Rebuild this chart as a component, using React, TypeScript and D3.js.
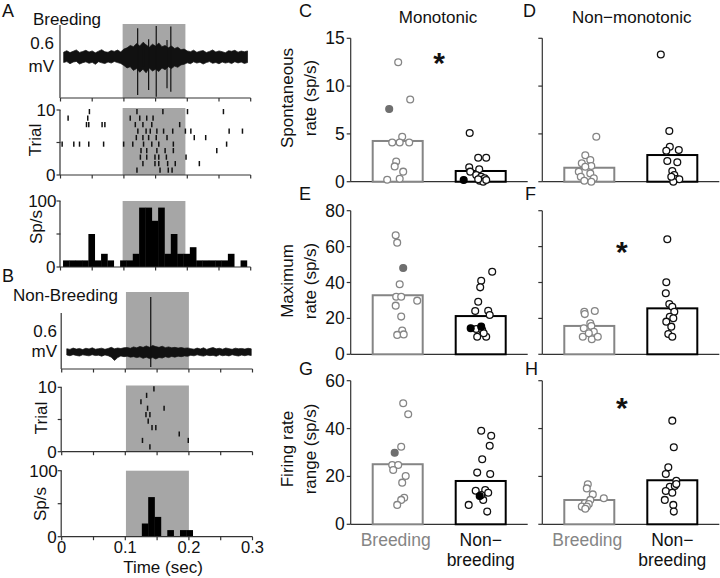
import React from "react";
import * as d3 from "d3";

const FONT = "'Liberation Sans', Arial, Helvetica, sans-serif";

// ---------------- Panels A & B (time course) ----------------
const timeTicks = [0, 0.05, 0.1, 0.15, 0.2, 0.25, 0.3];
const timeLabels = [0, 0.1, 0.2, 0.3];
const stimA = [0.098, 0.197];
const stimB = [0.101, 0.2];

const traceStartA = 0.005;
const traceStartB = 0.008;
const traceStep = 0.005;
const noiseHiA = [
  0.040, 0.052, 0.036, 0.047, 0.058, 0.038, 0.045, 0.055, 0.041, 0.050, 0.034, 0.048, 0.060, 0.043, 0.039, 0.053, 0.046, 0.057, 0.042,
  0.065, 0.075, 0.095, 0.085, 0.11, 0.09, 0.12, 0.1, 0.08, 0.105, 0.09, 0.115, 0.085, 0.095, 0.075, 0.09, 0.07, 0.08, 0.06, 0.065,
  0.05, 0.044, 0.056, 0.039, 0.048, 0.053, 0.037, 0.046, 0.058, 0.041, 0.05, 0.044, 0.035, 0.052, 0.047, 0.055, 0.04, 0.049, 0.043, 0.05,
];
const noiseLoA = [
  -0.045, -0.038, -0.055, -0.042, -0.036, -0.058, -0.047, -0.04, -0.052, -0.044, -0.06, -0.039, -0.048, -0.054, -0.041, -0.05, -0.037, -0.046, -0.053,
  -0.07, -0.09, -0.08, -0.11, -0.095, -0.125, -0.1, -0.13, -0.09, -0.115, -0.1, -0.12, -0.09, -0.105, -0.08, -0.095, -0.075, -0.085, -0.065, -0.06,
  -0.048, -0.055, -0.04, -0.05, -0.043, -0.058, -0.046, -0.038, -0.052, -0.045, -0.056, -0.041, -0.05, -0.044, -0.054, -0.039, -0.049, -0.042, -0.053, -0.046,
];
const spikeTimesA = [0.1217, 0.131, 0.139, 0.151, 0.168, 0.174];
const spikeHiA = [0.236, 0.12, 0.145, 0.255, 0.14, 0.25];
const spikeLoA = [-0.312, -0.08, -0.271, -0.326, -0.257, -0.285];

const noiseHiB = [
  0.035, 0.028, 0.042, 0.031, 0.038, 0.026, 0.04, 0.033, 0.045, 0.03, 0.036, 0.041, 0.029, 0.038, 0.05, 0.034, 0.043, 0.037, 0.046,
  0.048, 0.04, 0.055, 0.045, 0.06, 0.05, 0.065, 0.052, 0.07, 0.058, 0.05, 0.062, 0.047, 0.055, 0.045, 0.05, 0.042, 0.048, 0.04, 0.044,
  0.036, 0.03, 0.042, 0.033, 0.045, 0.028, 0.039, 0.048, 0.034, 0.04, 0.03, 0.043, 0.036, 0.029, 0.041, 0.035, 0.038, 0.031, 0.04, 0.034,
];
const noiseLoB = [
  -0.032, -0.04, -0.028, -0.037, -0.043, -0.03, -0.036, -0.041, -0.029, -0.038, -0.034, -0.045, -0.031, -0.04, -0.055, -0.09, -0.06, -0.042, -0.05,
  -0.045, -0.055, -0.05, -0.06, -0.052, -0.068, -0.055, -0.07, -0.06, -0.075, -0.058, -0.065, -0.05, -0.06, -0.048, -0.055, -0.045, -0.05, -0.042, -0.046,
  -0.035, -0.041, -0.03, -0.038, -0.044, -0.032, -0.039, -0.036, -0.045, -0.03, -0.04, -0.034, -0.042, -0.029, -0.037, -0.043, -0.033, -0.04, -0.031, -0.038,
];
const spikeTimesB = [0.14];
const spikeHiB = [0.59];
const spikeLoB = [-0.16];

// spike times per trial (trial 1 .. 10)
const rasterA = [
  [0.1206, 0.157, 0.17, 0.176],
  [0.13, 0.149, 0.155, 0.169, 0.181, 0.219],
  [0.126, 0.136, 0.149, 0.155, 0.167, 0.198],
  [0.127, 0.136, 0.152, 0.165, 0.178, 0.2465],
  [0.0026, 0.021, 0.03, 0.0446, 0.068, 0.0996, 0.114, 0.131, 0.144, 0.155, 0.178, 0.262],
  [0.1196, 0.13, 0.139, 0.151, 0.168, 0.211, 0.229],
  [0.122, 0.135, 0.1416, 0.152, 0.1626, 0.177, 0.197, 0.2056, 0.266, 0.287],
  [0.041, 0.0446, 0.0656, 0.07, 0.118, 0.13, 0.144, 0.188],
  [0.012, 0.043, 0.11, 0.125, 0.136, 0.146],
  [0.0456, 0.1206, 0.1615, 0.2003, 0.257],
];
const rasterB = [
  [0.1387],
  [0.127, 0.199],
  [0.1848],
  [0.142, 0.148],
  [0.136],
  [0.1325, 0.1387],
  [0.135, 0.161],
  [0.1246],
  [0.1335],
  [0.145],
];

const histStartA = 0.004;
const histStartB = 0.006;
const histBinWidth = 0.01;
const histA = [10, 10, 10, 10, 50, 10, 20, 10, 0, 10, 10, 20, 90, 90, 70, 90, 20, 50, 20, 20, 30, 10, 10, 10, 10, 10, 20, 0, 10];
const histB = [0, 0, 0, 0, 0, 0, 0, 0, 0, 0, 0, 0, 20, 60, 30, 0, 10, 0, 10, 10];

// ---------------- Panels C–H (population) ----------------
const groups = ["Breeding", "Non-breeding"];

const spontMonoB = [12.5, 8.6, 7.6, 4.1, 4.7, 4.1, 4.1, 2.1, 1.6, 1.05, 0.2, 0.3];
const spontMonoBJit = [0.01, 0.25, -0.17, -0.11, 0.09, 0.04, 0.23, -0.03, -0.06, 0.11, -0.21, 0.04];
const spontMonoBFilled = [2];
const spontMonoN = [5.1, 2.5, 2.5, 1.5, 1.05, 1.3, 0.18, 0.7, 0.52, 0.35, 0.1, 0.0, 0.18, 0.25];
const spontMonoNJit = [-0.22, -0.05, 0.11, -0.23, -0.21, -0.03, -0.34, -0.09, 0.01, 0.08, -0.02, 0.05, 0.11, -0.05];
const spontMonoNFilled = [6];
const spontMonoMeans = [4.26, 1.12];

const spontNonB = [4.7, 2.76, 1.92, 2.27, 1.64, 1.05, 0.52, 0.87, 0.35, 0.0, 1.57, 0.1];
const spontNonBJit = [0.14, -0.08, -0.15, 0.02, 0.04, -0.21, -0.17, 0.02, 0.09, 0.04, -0.08, -0.1];
const spontNonN = [13.3, 5.3, 3.66, 3.24, 3.31, 2.16, 2.03, 1.12, 0.7, 0.28, 0.25, 0.0, 0.52];
const spontNonNJit = [-0.23, -0.06, -0.05, -0.12, 0.13, -0.1, 0.1, 0, 0.04, 0.08, 0.14, 0.02, -0.02];
const spontNonMeans = [1.46, 2.79];

const maxMonoB = [66.3, 62.2, 48.1, 39.0, 32.1, 32.1, 29.9, 27.1, 21.0, 13.2, 10.8, 11.1];
const maxMonoBJit = [-0.04, -0.01, 0.11, 0.04, -0.03, 0.07, 0.39, -0.04, 0.07, 0.09, -0.01, 0.12];
const maxMonoBFilled = [2];
const maxMonoN = [46.0, 41.0, 37.3, 29.3, 24.1, 24.3, 21.9, 14.5, 14.1, 15.4, 13.5, 9.8, 9.8, 11.7];
const maxMonoNJit = [0.23, 0.01, -0.01, -0.05, -0.11, 0.15, 0.18, -0.2, -0.09, 0.01, 0.03, -0.07, 0.11, 0.06];
const maxMonoNFilled = [7, 9];
const maxMonoMeans = [32.9, 21.3];

const maxNonB = [23.7, 22.4, 24.1, 17.3, 15.8, 14.5, 12.6, 9.8, 8.4, 9.8, 11.7];
const maxNonBJit = [-0.1, -0.09, 0.11, 0.02, 0.04, -0.11, 0.09, -0.13, 0.05, 0.17, -0.01];
const maxNonN = [64.1, 40.1, 34.0, 28.0, 26.5, 23.7, 20.9, 20.1, 18.2, 15.4, 11.3, 9.8];
const maxNonNJit = [-0.1, -0.12, -0.13, -0.06, 0, 0.04, -0.05, 0.02, -0.12, -0.02, -0.08, 0];
const maxNonMeans = [15.8, 25.6];

const rangeMonoB = [50.6, 46.0, 32.4, 29.9, 24.8, 24.8, 22.7, 20.2, 17.4, 11.1, 10.2, 8.1];
const rangeMonoBJit = [0.11, 0.21, 0.07, -0.06, -0.11, 0.01, -0.09, 0.16, 0.09, 0.13, 0.07, -0.01];
const rangeMonoBFilled = [3];
const rangeMonoN = [39.1, 37.0, 32.8, 27.2, 21.6, 21.0, 14.0, 14.3, 11.8, 10.2, 8.1, 5.3, 12.2, 13.2];
const rangeMonoNJit = [0.01, 0.21, 0.18, 0.03, -0.07, 0.19, -0.1, 0.09, -0.02, 0.05, -0.24, 0.13, 0.01, 0.15];
const rangeMonoNFilled = [8];
const rangeMonoMeans = [25.1, 18.1];

const rangeNonB = [16.7, 15.0, 12.5, 10.9, 10.2, 8.8, 8.5, 7.4, 7.4, 6.5];
const rangeNonBJit = [-0.03, -0.05, 0.07, 0.29, 0.02, -0.09, -0.01, -0.15, -0.05, -0.08];
const rangeNonN = [43.3, 32.2, 23.8, 21.0, 18.2, 15.7, 16.0, 13.9, 13.2, 10.2, 8.1, 5.3, 16.8];
const rangeNonNJit = [0, 0.03, -0.08, -0.13, 0.08, -0.05, 0.05, -0.13, 0, -0.15, 0.02, 0.03, 0.08];
const rangeNonMeans = [10.15, 18.4];

const yMaxes = [15, 80, 60];
const yTickSets = [[0, 5, 10, 15], [0, 20, 40, 60, 80], [0, 20, 40, 60]];
const yTitles = [["Spontaneous", "rate (sp/s)"], ["Maximum", "rate (sp/s)"], ["Firing rate", "range (sp/s)"]];
const colTitles = ["Monotonic", "Non\u2212monotonic"];
const panelLetters = [["C", "D"], ["E", "F"], ["G", "H"]];
// significance asterisks: [row, col, value]
const sigMarks = [[0, 0, 13.2], [1, 1, 60.9], [2, 1, 51.5]];

// ---------------- styles ----------------
const GRAY_BOX = "#a6a6a6";
const BREED_GRAY = "#858585";
const AXIS = "#333";

type Linear = d3.ScaleLinear<number, number>;

function TimeAxis({ x, y }: { x: Linear; y: number }) {
  return (
    <g>
      <line x1={x(0)} x2={x(0.3)} y1={y} y2={y} stroke={AXIS} strokeWidth={1.2} />
      {timeTicks.map((t) => (
        <line key={t} x1={x(t)} x2={x(t)} y1={y} y2={y + 3.5} stroke={AXIS} strokeWidth={1.2} />
      ))}
    </g>
  );
}

function TracePanel(props: {
  x: Linear; y0: number; y1: number; domain: [number, number]; grayTop: number; stim: number[];
  start: number; hi: number[]; lo: number[]; spT: number[]; spHi: number[]; spLo: number[];
}) {
  const { x, y0, y1, domain, grayTop, stim, start, hi, lo, spT, spHi, spLo } = props;
  const y = d3.scaleLinear().domain(domain).range([y0, y1]);
  const area = d3
    .area<number>()
    .x((_, i) => x(start + i * traceStep))
    .y0((_, i) => y(lo[i]))
    .y1((h) => y(h));
  return (
    <g>
      <rect x={x(stim[0])} width={x(stim[1]) - x(stim[0])} y={grayTop} height={y0 - grayTop} fill={GRAY_BOX} />
      <path d={area(hi) || ""} fill="#111" stroke="#111" strokeWidth={0.7} strokeLinejoin="miter" />
      {spT.map((t, i) => (
        <line key={i} x1={x(t)} x2={x(t)} y1={y(spHi[i])} y2={y(spLo[i])} stroke="#111" strokeWidth={1.2} />
      ))}
      <line x1={x(0) - 0.5} x2={x(0) - 0.5} y1={y1} y2={y0} stroke={AXIS} strokeWidth={1.2} />
      <TimeAxis x={x} y={y0} />
    </g>
  );
}

function RasterPanel({ x, y0, y1, grayTop, stim, data }: { x: Linear; y0: number; y1: number; grayTop: number; stim: number[]; data: number[][] }) {
  const y = d3.scaleLinear().domain([0, 10]).range([y0, y1]);
  return (
    <g>
      <rect x={x(stim[0])} width={x(stim[1]) - x(stim[0])} y={grayTop} height={y0 - grayTop} fill={GRAY_BOX} />
      {data.map((times, ti) =>
        times.map((t, j) => (
          <line key={ti + "-" + j} x1={x(t)} x2={x(t)} y1={y(ti + 1 - 0.65)} y2={y(ti + 1 + 0.15)} stroke="#111" strokeWidth={1.5} />
        ))
      )}
      <line x1={x(0) - 0.5} x2={x(0) - 0.5} y1={y1} y2={y0} stroke={AXIS} strokeWidth={1.2} />
      {[0, 5, 10].map((v) => (
        <line key={v} x1={x(0) - 4} x2={x(0)} y1={y(v)} y2={y(v)} stroke={AXIS} strokeWidth={1.2} />
      ))}
      <text x={x(0) - 5} y={y(10) + 6} textAnchor="end" fontSize={17}>10</text>
      <text x={x(0) - 5} y={y(0) + 6} textAnchor="end" fontSize={17}>0</text>
      <TimeAxis x={x} y={y0} />
    </g>
  );
}

function HistPanel({ x, y0, y1, stim, data, binStart }: { x: Linear; y0: number; y1: number; stim: number[]; data: number[]; binStart: number }) {
  const y = d3.scaleLinear().domain([0, 100]).range([y0, y1]);
  return (
    <g>
      <rect x={x(stim[0])} width={x(stim[1]) - x(stim[0])} y={y1} height={y0 - y1} fill={GRAY_BOX} />
      {data.map((v, k) =>
        v > 0 ? (
          <rect key={k} x={x(binStart + k * histBinWidth)} width={x(binStart + (k + 1) * histBinWidth) - x(binStart + k * histBinWidth) + 0.3} y={y(v)} height={y0 - y(v)} fill="#000" />
        ) : null
      )}
      <line x1={x(0) - 0.5} x2={x(0) - 0.5} y1={y1} y2={y0} stroke={AXIS} strokeWidth={1.2} />
      {[0, 50, 100].map((v) => (
        <line key={v} x1={x(0) - 4} x2={x(0)} y1={y(v)} y2={y(v)} stroke={AXIS} strokeWidth={1.2} />
      ))}
      <text x={x(0) - 4} y={y(100) + 6} textAnchor="end" fontSize={17}>100</text>
      <text x={x(0) - 5} y={y(0) + 6} textAnchor="end" fontSize={17}>0</text>
      <TimeAxis x={x} y={y0} />
    </g>
  );
}

type Group = { values: number[]; jitter: number[]; filled: number[] };

function makeBand(axisX: number) {
  return d3.scaleBand<string>().domain(groups).range([axisX, axisX + 177]).paddingInner(0.3976).paddingOuter(0.265);
}

function BarPanel(props: {
  axisX: number; top: number; bottom: number; yMax: number; ticks: number[]; showLabels: boolean;
  means: number[]; breeding: Group; non: Group;
}) {
  const { axisX, top, bottom, yMax, ticks, showLabels, means, breeding, non } = props;
  const x = makeBand(axisX);
  const y = d3.scaleLinear().domain([0, yMax]).range([bottom, top]);
  const bw = x.bandwidth();
  const sets: [Group, string, string][] = [
    [breeding, BREED_GRAY, "#6f6f6f"],
    [non, "#111", "#000"],
  ];
  return (
    <g>
      <line x1={axisX} x2={axisX} y1={top} y2={bottom} stroke={AXIS} strokeWidth={1.2} />
      <line x1={axisX} x2={axisX + 177} y1={bottom} y2={bottom} stroke={AXIS} strokeWidth={1.2} />
      {ticks.map((t) => (
        <g key={t}>
          <line x1={axisX - 4} x2={axisX} y1={y(t)} y2={y(t)} stroke={AXIS} strokeWidth={1.2} />
          {showLabels && (
            <text x={axisX - 6} y={y(t) + 6} textAnchor="end" fontSize={17.5}>{t}</text>
          )}
        </g>
      ))}
      {groups.map((g, gi) => (
        <rect key={g} x={x(g)!} width={bw} y={y(means[gi])} height={bottom - y(means[gi])} fill="white" stroke={gi === 0 ? BREED_GRAY : "#000"} strokeWidth={2} />
      ))}
      {sets.map(([grp, col, fillCol], gi) => {
        const cx0 = x(groups[gi])! + bw / 2;
        const order = grp.values.map((_, i) => i).sort((a, b) => (grp.filled.includes(a) ? 1 : 0) - (grp.filled.includes(b) ? 1 : 0));
        return order.map((i) => {
          const f = grp.filled.includes(i);
          return (
            <circle key={gi + "-" + i} cx={cx0 + grp.jitter[i] * bw} cy={y(grp.values[i])} r={3.4} fill={f ? fillCol : "white"} stroke={f ? fillCol : col} strokeWidth={1.3} />
          );
        });
      })}
    </g>
  );
}

export default function App() {
  const xA = d3.scaleLinear().domain([0, 0.3]).range([60.5, 250.7]);
  const xB = d3.scaleLinear().domain([0, 0.3]).range([61.7, 252.5]);

  const rows = [
    { top: 38.3, bottom: 181.7, titleY: 98 },
    { top: 210.7, bottom: 354.3, titleY: 281 },
    { top: 380.7, bottom: 524.3, titleY: 449 },
  ];
  const cols = [350.7, 542.3];
  const panelData = [
    [
      { means: spontMonoMeans, breeding: { values: spontMonoB, jitter: spontMonoBJit, filled: spontMonoBFilled }, non: { values: spontMonoN, jitter: spontMonoNJit, filled: spontMonoNFilled } },
      { means: spontNonMeans, breeding: { values: spontNonB, jitter: spontNonBJit, filled: [] }, non: { values: spontNonN, jitter: spontNonNJit, filled: [] } },
    ],
    [
      { means: maxMonoMeans, breeding: { values: maxMonoB, jitter: maxMonoBJit, filled: maxMonoBFilled }, non: { values: maxMonoN, jitter: maxMonoNJit, filled: maxMonoNFilled } },
      { means: maxNonMeans, breeding: { values: maxNonB, jitter: maxNonBJit, filled: [] }, non: { values: maxNonN, jitter: maxNonNJit, filled: [] } },
    ],
    [
      { means: rangeMonoMeans, breeding: { values: rangeMonoB, jitter: rangeMonoBJit, filled: rangeMonoBFilled }, non: { values: rangeMonoN, jitter: rangeMonoNJit, filled: rangeMonoNFilled } },
      { means: rangeNonMeans, breeding: { values: rangeNonB, jitter: rangeNonBJit, filled: [] }, non: { values: rangeNonN, jitter: rangeNonNJit, filled: [] } },
    ],
  ];
  const letterX = [[299, 523], [299, 525], [299, 525]];
  const letterY = [17.3, 200, 375];

  return (
    <svg width={720} height={578} style={{ position: "fixed", left: 0, top: 0, display: "block" }} fontFamily={FONT} fill="#111">
      <rect width={720} height={578} fill="white" />

      {/* Panel A */}
      <text x={2} y={17} fontSize={18}>A</text>
      <text x={33} y={25} fontSize={17}>Breeding</text>
      <TracePanel x={xA} y0={98} y1={25} domain={[-0.337, 0.263]} grayTop={24} stim={stimA}
        start={traceStartA} hi={noiseHiA} lo={noiseLoA} spT={spikeTimesA} spHi={spikeHiA} spLo={spikeLoA} />
      <text x={54} y={49} textAnchor="end" fontSize={17}>0.6</text>
      <text x={54} y={72} textAnchor="end" fontSize={17}>mV</text>
      <RasterPanel x={xA} y0={175} y1={110} grayTop={108} stim={stimA} data={rasterA} />
      <text transform="translate(40.5,140) rotate(-90)" textAnchor="middle" fontSize={17}>Trial</text>
      <HistPanel x={xA} y0={267} y1={201} stim={stimA} data={histA} binStart={histStartA} />
      <text transform="translate(42,227) rotate(-90)" textAnchor="middle" fontSize={17}>Sp/s</text>

      {/* Panel B */}
      <text x={2} y={282} fontSize={18}>B</text>
      <text x={13} y={301} fontSize={17}>Non-Breeding</text>
      <TracePanel x={xB} y0={369} y1={313} domain={[-0.182, 0.418]} grayTop={292} stim={stimB}
        start={traceStartB} hi={noiseHiB} lo={noiseLoB} spT={spikeTimesB} spHi={spikeHiB} spLo={spikeLoB} />
      <text x={57} y={337} textAnchor="end" fontSize={17}>0.6</text>
      <text x={57} y={357} textAnchor="end" fontSize={17}>mV</text>
      <RasterPanel x={xB} y0={451.7} y1={387.3} grayTop={385.5} stim={stimB} data={rasterB} />
      <text transform="translate(47,418) rotate(-90)" textAnchor="middle" fontSize={17}>Trial</text>
      <HistPanel x={xB} y0={536.7} y1={470.7} stim={stimB} data={histB} binStart={histStartB} />
      <text transform="translate(46,504) rotate(-90)" textAnchor="middle" fontSize={17}>Sp/s</text>
      {timeLabels.map((t) => (
        <text key={t} x={xB(t)} y={553} textAnchor="middle" fontSize={16.5}>{t}</text>
      ))}
      <text x={163} y={573} textAnchor="middle" fontSize={17}>Time (sec)</text>

      {/* Panels C–H */}
      {colTitles.map((t, ci) => (
        <text key={t} x={ci === 0 ? 438 : 631.7} y={23.3} textAnchor="middle" fontSize={17}>{t}</text>
      ))}
      {rows.map((r, ri) => (
        <g key={ri}>
          {cols.map((ax, ci) => (
            <g key={ci}>
              <text x={letterX[ri][ci]} y={letterY[ri]} fontSize={18}>{panelLetters[ri][ci]}</text>
              <BarPanel axisX={ax} top={r.top} bottom={r.bottom} yMax={yMaxes[ri]} ticks={yTickSets[ri]} showLabels={ci === 0}
                means={panelData[ri][ci].means} breeding={panelData[ri][ci].breeding} non={panelData[ri][ci].non} />
            </g>
          ))}
          <text transform={`translate(293,${r.titleY}) rotate(-90)`} textAnchor="middle" fontSize={17}>{yTitles[ri][0]}</text>
          <text transform={`translate(316,${r.titleY}) rotate(-90)`} textAnchor="middle" fontSize={17}>{yTitles[ri][1]}</text>
        </g>
      ))}
      {sigMarks.map(([ri, ci, v], k) => {
        const r = rows[ri];
        const y = d3.scaleLinear().domain([0, yMaxes[ri]]).range([r.bottom, r.top]);
        const x = makeBand(cols[ci]);
        const mid = (x(groups[0])! + x(groups[1])! + x.bandwidth()) / 2 - (ci === 1 ? 9 : 0);
        return (
          <text key={k} x={mid} y={y(v) + 17} textAnchor="middle" fontSize={30} fontWeight="bold">*</text>
        );
      })}
      {cols.map((ax, ci) => {
        const x = makeBand(ax);
        const c0 = x(groups[0])! + x.bandwidth() / 2;
        const c1 = x(groups[1])! + x.bandwidth() / 2;
        return (
          <g key={ci}>
            <text x={c0 - 2} y={546} textAnchor="middle" fontSize={17.5} fill={BREED_GRAY}>Breeding</text>
            <text x={c1} y={546} textAnchor="middle" fontSize={17.5}>{"Non\u2212"}</text>
            <text x={c1} y={566} textAnchor="middle" fontSize={17.5}>breeding</text>
          </g>
        );
      })}
    </svg>
  );
}
